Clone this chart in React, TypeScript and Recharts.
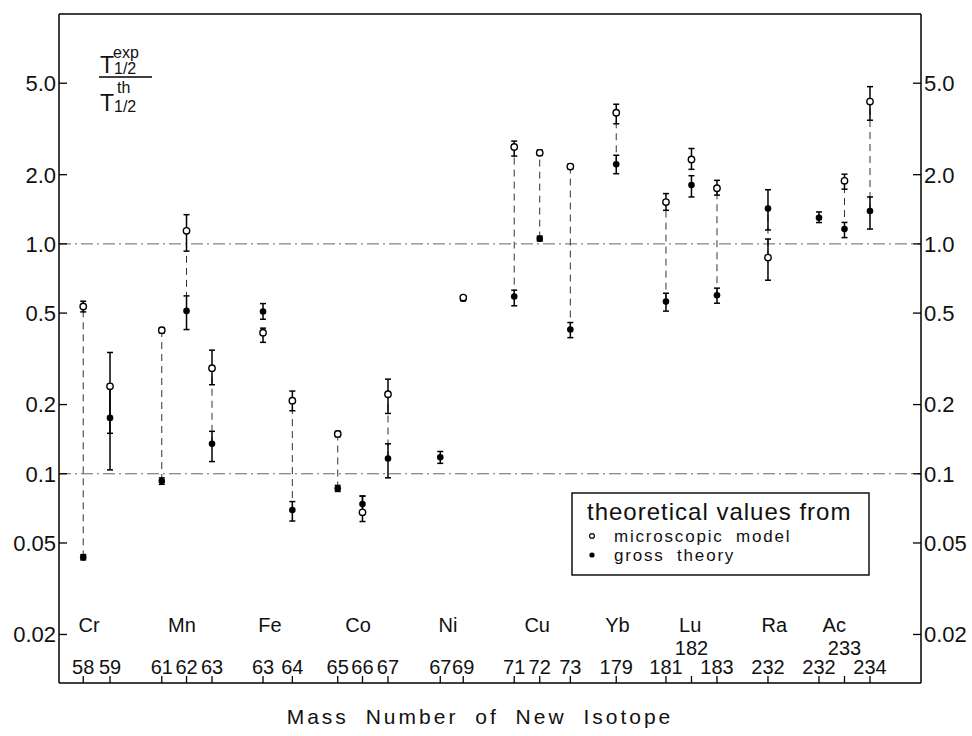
import { ScatterChart, Scatter, XAxis, YAxis, ErrorBar, ReferenceLine, Legend } from 'recharts';

// isotope mass numbers, in plotting order
const massNumbers = ['58', '59', '61', '62', '63', '63', '64', '65', '66', '67', '67', '69', '71', '72', '73', '179', '181', '182', '183', '232', '232', '233', '234'];
// slot of each isotope along the x axis
const slots = [0.95, 2, 4.03, 5, 6, 8, 9.15, 10.93, 11.9, 12.9, 14.95, 15.85, 17.85, 18.85, 20.05, 21.85, 23.8, 24.8, 25.8, 27.8, 29.8, 30.8, 31.8];
const raisedLabels = ['182', '233'];

const elements = ['Cr', 'Mn', 'Fe', 'Co', 'Ni', 'Cu', 'Yb', 'Lu', 'Ra', 'Ac'];
const elementSlots = [1.18, 4.82, 8.27, 11.73, 15.25, 18.75, 21.9, 24.75, 28.05, 30.4];

// T1/2 exp / T1/2 th, microscopic model (open circles)
const micro = [0.534, 0.24, 0.421, 1.14, 0.288, 0.411, 0.208, 0.149, 0.068, 0.222, null, 0.584, 2.64, 2.49, 2.17, 3.72, 1.52, 2.33, 1.746, 0.872, null, 1.88, 4.16];
const microLo = [0.506, 0.15, 0.41, 0.93, 0.244, 0.373, 0.188, 0.145, 0.062, 0.183, null, 0.575, 2.41, 2.43, 2.12, 3.33, 1.4, 2.11, 1.63, 0.695, null, 1.73, 3.45];
const microHi = [0.563, 0.337, 0.432, 1.34, 0.345, 0.43, 0.229, 0.153, 0.08, 0.258, null, 0.593, 2.8, 2.56, 2.22, 4.05, 1.655, 2.6, 1.89, 1.05, null, 2.01, 4.83];

// gross theory (filled circles)
const gross = [0.0433, 0.175, 0.093, 0.511, 0.135, 0.508, 0.0695, 0.0863, 0.0738, 0.1165, 0.118, 0.578, 0.59, 1.054, 0.424, 2.22, 0.561, 1.805, 0.598, 1.424, 1.3, 1.16, 1.39];
const grossLo = [0.0422, 0.104, 0.09, 0.424, 0.113, 0.47, 0.0623, 0.0838, 0.069, 0.096, 0.111, 0.565, 0.538, 1.03, 0.391, 2.02, 0.51, 1.6, 0.552, 1.15, 1.238, 1.065, 1.16];
const grossHi = [0.0445, 0.245, 0.096, 0.594, 0.153, 0.55, 0.0757, 0.089, 0.08, 0.135, 0.125, 0.59, 0.629, 1.08, 0.455, 2.43, 0.61, 1.98, 0.642, 1.72, 1.377, 1.24, 1.6];

// dashed tie between the two values of an isotope
const tied = [1, 0, 1, 1, 1, 0, 1, 1, 0, 1, 0, 0, 1, 1, 1, 1, 1, 0, 1, 1, 0, 1, 1];

const yTicks = [0.02, 0.05, 0.1, 0.2, 0.5, 1, 2, 5];
const yTickLabels = ['0.02', '0.05', '0.1', '0.2', '0.5', '1.0', '2.0', '5.0'];

const FONT = '"Liberation Sans", Arial, sans-serif';

const microData = slots
    .map((x, i) => micro[i] == null ? null : { x, y: micro[i], err: [micro[i]! - microLo[i]!, microHi[i]! - micro[i]!] })
    .filter(Boolean);
const grossData = slots.map((x, i) => ({ x, y: gross[i], err: [gross[i] - grossLo[i], grossHi[i] - gross[i]] }));
const tieData = slots
    .map((x, i) => {
        if (!tied[i] || micro[i] == null) return null;
        const top = Math.max(micro[i]!, gross[i]);
        const bottom = Math.min(micro[i]!, gross[i]);
        return { x, y: top, err: [top - bottom, 0] };
    })
    .filter(Boolean);
const elementData = elements.map((name, i) => ({ x: elementSlots[i], y: 0.02, name }));

const OpenDot = (p: any) => <circle cx={p.cx} cy={p.cy} r={3.2} fill="#fff" stroke="#000" strokeWidth={1.4} />;
const FilledDot = (p: any) => <circle cx={p.cx} cy={p.cy} r={3.3} fill="#000" />;
const NoDot = () => <g />;
const ElementText = (p: any) => (
    <text x={p.cx} y={p.cy - 10} dy="0.36em" textAnchor="middle" fontSize={20} fontFamily={FONT} fill="#111">
        {p.payload.name}
    </text>
);

const LeftTick = (p: any) => {
    const i = yTicks.indexOf(p.payload.value);
    return (
        <g>
            <line x1={p.x} x2={p.x + 8} y1={p.y} y2={p.y} stroke="#000" strokeWidth={1.3} />
            <text x={p.x - 3} y={p.y} dy="0.36em" textAnchor="end" fontSize={22} fontFamily={FONT} fill="#111">
                {yTickLabels[i]}
            </text>
        </g>
    );
};

const RightTick = (p: any) => {
    const i = yTicks.indexOf(p.payload.value);
    return (
        <g>
            <line x1={p.x - 8} x2={p.x} y1={p.y} y2={p.y} stroke="#000" strokeWidth={1.3} />
            <text x={p.x + 3} y={p.y} dy="0.36em" textAnchor="start" fontSize={22} fontFamily={FONT} fill="#111">
                {yTickLabels[i]}
            </text>
        </g>
    );
};

const MassTick = (p: any) => {
    const i = slots.indexOf(p.payload.value);
    const label = massNumbers[i];
    const raised = raisedLabels.includes(label);
    return (
        <g>
            <line x1={p.x} x2={p.x} y1={p.y} y2={p.y - 7} stroke="#000" strokeWidth={1.3} />
            <text x={p.x} y={p.y - (raised ? 35 : 16)} dy="0.36em" textAnchor="middle" fontSize={20} fontFamily={FONT} fill="#111">
                {label}
            </text>
        </g>
    );
};

const RatioLabel = () => (
    <g fontFamily={FONT} fill="#111">
        <text x={100} y={73} fontSize={23}>T</text>
        <text x={113} y={58} fontSize={16}>exp</text>
        <text x={114} y={74} fontSize={16}>1/2</text>
        <line x1={99} x2={152} y1={77} y2={77} stroke="#000" strokeWidth={1.3} />
        <text x={100} y={111} fontSize={23}>T</text>
        <text x={117} y={93} fontSize={16}>th</text>
        <text x={114} y={112} fontSize={16}>1/2</text>
    </g>
);

const AxisTitle = (p: any) => {
    const vb = p.viewBox;
    return (
        <text x={vb.x + vb.width / 2 - 10} y={vb.y + 41} textAnchor="middle" fontSize={21} fontFamily={FONT}
            letterSpacing={3} wordSpacing={8} fill="#111">
            Mass Number of New Isotope
        </text>
    );
};

const LegendBox = () => (
    <svg width={300} height={85} style={{ display: 'block' }}>
        <rect x={1} y={1} width={297} height={82} fill="#fff" stroke="#000" strokeWidth={1.4} />
        <text x={16} y={28} fontSize={24} fontFamily={FONT} letterSpacing={1} fill="#111">theoretical values from</text>
        <circle cx={21} cy={44} r={2.4} fill="#fff" stroke="#000" strokeWidth={1.2} />
        <text x={43} y={50} fontSize={17} fontFamily={FONT} letterSpacing={1.8} wordSpacing={6} fill="#111">microscopic model</text>
        <circle cx={21} cy={63} r={2.6} fill="#000" />
        <text x={43} y={69} fontSize={17} fontFamily={FONT} letterSpacing={1.8} wordSpacing={6} fill="#111">gross theory</text>
    </svg>
);

export default function App() {
    return (
        <div style={{ position: 'absolute', left: 0, top: 0, width: 972, height: 736, background: '#fff' }}>
            <ScatterChart width={972} height={736} margin={{ top: 14, right: 0, bottom: 0, left: 0 }}>
                <XAxis
                    type="number"
                    dataKey="x"
                    domain={[0, 33.8]}
                    ticks={slots}
                    interval={0}
                    height={53}
                    tickLine={false}
                    tickSize={0}
                    tickMargin={0}
                    tick={<MassTick />}
                    axisLine={{ stroke: '#000', strokeWidth: 1.5 }}
                    label={{ content: AxisTitle }}
                />
                <YAxis
                    yAxisId="left"
                    type="number"
                    dataKey="y"
                    scale="log"
                    domain={[0.0123, 10]}
                    allowDataOverflow
                    ticks={yTicks}
                    interval={0}
                    width={59}
                    tickLine={false}
                    tickSize={0}
                    tickMargin={0}
                    tick={<LeftTick />}
                    axisLine={{ stroke: '#000', strokeWidth: 1.5 }}
                    label={{ content: RatioLabel }}
                />
                <YAxis
                    yAxisId="right"
                    orientation="right"
                    type="number"
                    dataKey="y"
                    scale="log"
                    domain={[0.0123, 10]}
                    allowDataOverflow
                    ticks={yTicks}
                    interval={0}
                    width={51}
                    tickLine={false}
                    tickSize={0}
                    tickMargin={0}
                    tick={<RightTick />}
                    axisLine={{ stroke: '#000', strokeWidth: 1.5 }}
                />
                <ReferenceLine yAxisId="left" y={10} stroke="#000" strokeWidth={1.5} />
                <ReferenceLine yAxisId="left" y={1} stroke="#555" strokeWidth={0.9} strokeDasharray="12 4 2 4" />
                <ReferenceLine yAxisId="left" y={0.1} stroke="#555" strokeWidth={0.9} strokeDasharray="12 4 2 4" />
                <Legend layout="vertical" align="center" verticalAlign="middle" width={300} height={85}
                    wrapperStyle={{ left: 571, top: 492, width: 300, height: 85 }} content={<LegendBox />} />

                <Scatter yAxisId="left" name="tie" data={tieData} shape={<NoDot />} isAnimationActive={false} legendType="none">
                    <ErrorBar dataKey="err" direction="y" width={0} stroke="#333" strokeWidth={1} strokeDasharray="7 5" isAnimationActive={false} />
                </Scatter>
                <Scatter yAxisId="left" name="gross theory" data={grossData} shape={<FilledDot />} isAnimationActive={false}>
                    <ErrorBar dataKey="err" direction="y" width={3} stroke="#000" strokeWidth={1.5} isAnimationActive={false} />
                </Scatter>
                <Scatter yAxisId="left" name="microscopic model" data={microData} shape={<OpenDot />} isAnimationActive={false}>
                    <ErrorBar dataKey="err" direction="y" width={3} stroke="#000" strokeWidth={1.5} isAnimationActive={false} />
                </Scatter>
                <Scatter yAxisId="left" name="elements" data={elementData} shape={<ElementText />} isAnimationActive={false} legendType="none" />
            </ScatterChart>
        </div>
    );
}
